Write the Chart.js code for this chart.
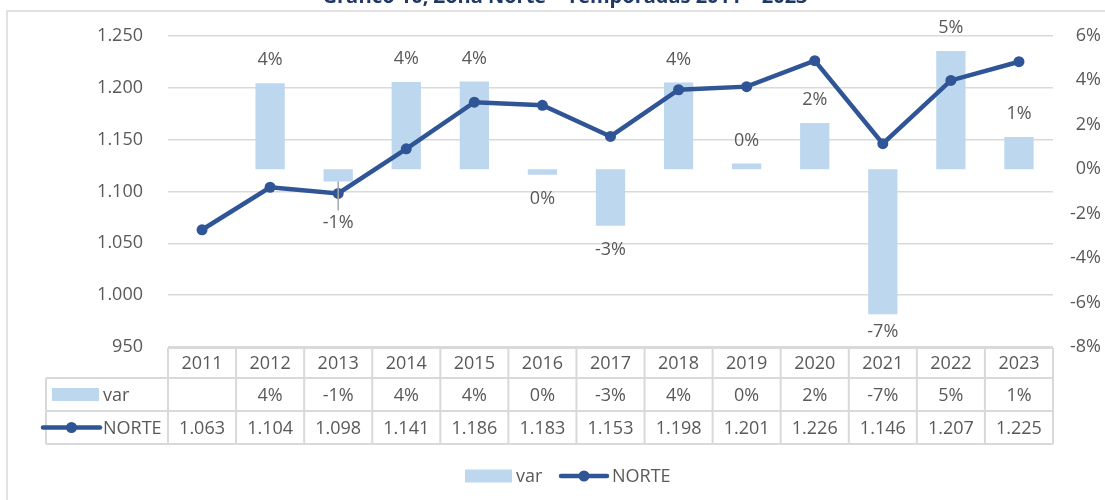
<!DOCTYPE html>
<html>
<head>
<meta charset="utf-8">
<script src="https://cdn.jsdelivr.net/npm/chart.js@4.4.1/dist/chart.umd.min.js"></script>
<style>
  html, body { margin: 0; padding: 0; background: #fff; }
</style>
</head>
<body>
<canvas id="chart" width="1105" height="500"></canvas>
<script>
// values
const years = ['2011', '2012', '2013', '2014', '2015', '2016', '2017', '2018', '2019', '2020', '2021', '2022', '2023']
const norte = [1063, 1104, 1098, 1141, 1186, 1183, 1153, 1198, 1201, 1226, 1146, 1207, 1225]
// yearly variation in percent (bar heights), first season has none
const varPct = [null, 3.86, -0.55, 3.92, 3.94, -0.25, -2.54, 3.9, 0.25, 2.08, -6.53, 5.32, 1.45]
const leftAxis = { min: 950, max: 1250, step: 50 }
const rightAxis = { min: -8, max: 6, step: 2 }
const titleText = 'Gráfico 10, Zona Norte – Temporadas 2011 – 2023'

const FONT = 'Open Sans'
const TEXT = '#595959'
const GRID = '#D9D9D9'
const BLUE = '#2F5597'
const LIGHT = '#BDD7EE'

// 1.250 style thousands separator
function fmt (v) {
  if (v < 1000) return String(v)
  return Math.floor(v / 1000) + '.' + String(v % 1000).padStart(3, '0')
}
function pct (v) {
  return `${Math.round(v)}%`
}

// extra push for labels that were dragged away in the original (with a leader line)
const labelShift = { 2: 17 }

const barLabels = {
  id: 'barLabels',
  afterDatasetsDraw (chart) {
    const { ctx, chartArea } = chart
    const meta = chart.getDatasetMeta(0)
    ctx.save()
    ctx.font = `18px "${FONT}"`
    ctx.fillStyle = TEXT
    ctx.textAlign = 'center'
    ctx.textBaseline = 'middle'
    meta.data.forEach((el, i) => {
      const v = varPct[i]
      if (v === null) return
      let y
      if (v >= 0) {
        y = el.y - 23
      } else {
        const shift = labelShift[i] || 0
        // keep the label inside the plot area, like Excel does
        y = Math.min(el.y + 24 + shift, chartArea.bottom - 15)
        if (shift) {
          ctx.strokeStyle = '#A6A6A6'
          ctx.lineWidth = 1.5
          ctx.beginPath()
          ctx.moveTo(el.x, el.y)
          ctx.lineTo(el.x, y - 12)
          ctx.stroke()
        }
      }
      ctx.fillText(pct(v), el.x, y)
    })
    ctx.restore()
  }
}

function drawBarKey (ctx, x, y) {
  ctx.fillStyle = LIGHT
  ctx.fillRect(x, y - 6.5, 47, 13)
}
function drawLineKey (ctx, x, y, w) {
  ctx.strokeStyle = BLUE
  ctx.lineWidth = 4.5
  ctx.lineCap = 'round'
  ctx.beginPath()
  ctx.moveTo(x, y)
  ctx.lineTo(x + w, y)
  ctx.stroke()
  ctx.fillStyle = BLUE
  ctx.beginPath()
  ctx.arc(x + w / 2, y, 5.5, 0, Math.PI * 2)
  ctx.fill()
}

const dataTable = {
  id: 'dataTable',
  afterDraw (chart) {
    const { ctx, chartArea, scales } = chart
    const x = scales.x
    const step = x.getPixelForValue(1) - x.getPixelForValue(0)
    const left = x.getPixelForValue(0) - step / 2
    const right = x.getPixelForValue(years.length - 1) + step / 2
    const keyLeft = 46
    const top = chartArea.bottom + 1
    const rows = [top, top + 30, top + 63, top + 96]

    ctx.save()
    // frame of the whole chart
    ctx.strokeStyle = GRID
    ctx.lineWidth = 1.5
    ctx.beginPath()
    ctx.moveTo(7, 500)
    ctx.lineTo(7, 11)
    ctx.lineTo(1105, 11)
    ctx.stroke()

    // title, mostly cut off at the top
    ctx.fillStyle = '#1F3864'
    ctx.font = `bold 20px "${FONT}"`
    ctx.textAlign = 'center'
    ctx.textBaseline = 'alphabetic'
    ctx.fillText(titleText, 565, 3, 525)

    // table grid
    ctx.strokeStyle = GRID
    ctx.lineWidth = 2
    ctx.beginPath()
    ctx.moveTo(left, rows[0])
    ctx.lineTo(right, rows[0])
    for (let r = 1; r < rows.length; r++) {
      ctx.moveTo(keyLeft, rows[r])
      ctx.lineTo(right, rows[r])
    }
    ctx.moveTo(keyLeft, rows[1])
    ctx.lineTo(keyLeft, rows[3])
    for (let i = 0; i <= years.length; i++) {
      const cx = left + i * step
      ctx.moveTo(cx, rows[0])
      ctx.lineTo(cx, rows[3])
    }
    ctx.stroke()

    // table text
    ctx.font = `18px "${FONT}"`
    ctx.fillStyle = TEXT
    ctx.textBaseline = 'middle'
    ctx.textAlign = 'center'
    const mid = r => (rows[r] + rows[r + 1]) / 2 + 1
    years.forEach((yr, i) => {
      const cx = x.getPixelForValue(i)
      ctx.fillText(yr, cx, mid(0))
      if (varPct[i] !== null) ctx.fillText(pct(varPct[i]), cx, mid(1))
      ctx.fillText(fmt(norte[i]), cx, mid(2))
    })

    // series keys inside the table
    const ds = chart.data.datasets
    drawBarKey(ctx, 52, mid(1) - 1)
    drawLineKey(ctx, 43, mid(2) - 1, 57)
    ctx.fillStyle = TEXT
    ctx.textAlign = 'left'
    ctx.fillText(ds[0].label, 103, mid(1))
    ctx.fillText(ds[1].label, 103, mid(2))

    // legend below the table
    const ly = 476
    drawBarKey(ctx, 465, ly)
    ctx.fillStyle = TEXT
    ctx.fillText(ds[0].label, 516, ly + 1)
    drawLineKey(ctx, 561, ly, 46)
    ctx.fillStyle = TEXT
    ctx.fillText(ds[1].label, 612, ly + 1)
    ctx.restore()
  }
}

new Chart(document.getElementById('chart'), {
  type: 'bar',
  data: {
    labels: years,
    datasets: [
      {
        type: 'bar',
        label: 'var',
        data: varPct,
        yAxisID: 'y1',
        backgroundColor: LIGHT,
        barPercentage: 0.43,
        categoryPercentage: 1,
        order: 1
      },
      {
        type: 'line',
        label: 'NORTE',
        data: norte,
        yAxisID: 'y',
        borderColor: BLUE,
        backgroundColor: BLUE,
        borderWidth: 4.5,
        pointRadius: 5.5,
        pointHoverRadius: 5.5,
        pointBorderWidth: 0,
        tension: 0,
        order: 0
      }
    ]
  },
  options: {
    responsive: false,
    animation: false,
    layout: { padding: { top: 35, right: 4, left: 0, bottom: 0 } },
    plugins: {
      legend: { display: false },
      tooltip: { enabled: false }
    },
    scales: {
      x: {
        grid: { display: false },
        border: { display: false },
        ticks: { display: false },
        afterFit (s) { s.height = 153 }
      },
      y: {
        position: 'left',
        min: leftAxis.min,
        max: leftAxis.max,
        ticks: {
          stepSize: leftAxis.step,
          padding: 25,
          color: TEXT,
          font: { family: FONT, size: 18 },
          callback: v => fmt(v)
        },
        grid: { color: GRID, lineWidth: 1.5, drawTicks: false },
        border: { display: false },
        afterFit (s) { s.width = 168 }
      },
      y1: {
        position: 'right',
        min: rightAxis.min,
        max: rightAxis.max,
        ticks: {
          stepSize: rightAxis.step,
          padding: 15,
          crossAlign: 'far',
          color: TEXT,
          font: { family: FONT, size: 18 },
          callback: v => v + '%'
        },
        grid: { display: false, drawTicks: false },
        border: { display: false },
        afterFit (s) { s.width = 48 }
      }
    }
  },
  plugins: [barLabels, dataTable]
})
</script>
</body>
</html>
